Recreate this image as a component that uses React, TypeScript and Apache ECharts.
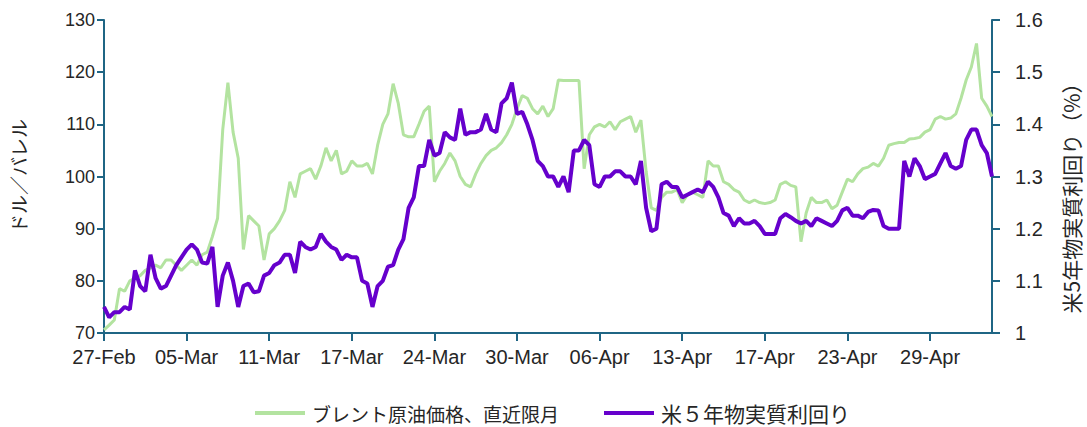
import React, { useEffect, useRef } from "react";
import * as echarts from "echarts";

const tickLabels = ["27-Feb", "05-Mar", "11-Mar", "17-Mar", "24-Mar", "30-Mar", "06-Apr", "13-Apr", "17-Apr", "23-Apr", "29-Apr"];
const pointsPerTick = 16;

const brent = [
  70.6, 71.5, 72.5, 78.5, 78.0, 80.0, 80.5, 81.0, 82.0, 82.5,
  83.0, 82.5, 84.0, 84.0, 83.0, 82.0, 83.0, 84.0, 83.0, 85.0,
  85.5, 88.5, 92.0, 109.0, 118.0, 108.5, 103.5, 86.0, 92.5, 91.5,
  90.5, 84.0, 89.0, 90.0, 91.5, 93.5, 99.0, 96.0, 100.5, 101.0,
  101.5, 99.5, 102.0, 105.5, 103.0, 105.0, 100.5, 101.0, 103.0, 102.0,
  102.0, 102.5, 100.5, 106.0, 110.0, 112.0, 117.8, 114.0, 108.0, 107.6,
  107.6, 110.0, 112.5, 113.5, 99.0, 101.0, 102.5, 104.5, 103.0, 100.0,
  98.5, 98.0, 100.5, 102.5, 104.0, 105.0, 105.5, 106.5, 108.0, 110.0,
  113.0, 115.5, 115.0, 113.0, 112.0, 113.5, 111.5, 113.0, 118.5, 118.4,
  118.4, 118.4, 118.4, 101.5, 108.0, 109.5, 110.0, 109.5, 110.5, 109.0,
  110.5, 111.0, 111.5, 108.5, 110.8, 101.0, 94.0, 93.5, 96.0, 97.0,
  97.0, 97.5, 95.0, 96.5, 97.0, 96.5, 96.0, 103.0, 102.0, 102.0,
  99.0, 98.5, 97.5, 97.0, 95.5, 95.0, 95.5, 95.0, 94.8, 95.0,
  95.5, 98.5, 99.0, 98.3, 98.0, 87.5, 93.0, 96.0, 95.0, 95.0,
  95.5, 93.8, 94.5, 97.0, 99.5, 99.0, 100.5, 101.5, 101.8, 102.5,
  102.0, 103.5, 106.0, 106.3, 106.5, 106.5, 107.2, 107.3, 107.5, 108.5,
  109.0, 111.0, 111.5, 111.0, 111.2, 112.0, 115.0, 118.5, 121.0, 125.5,
  115.0, 113.5, 111.5
];

const realYield = [
  1.05, 1.03, 1.04, 1.04, 1.05, 1.045, 1.12, 1.09, 1.08, 1.15,
  1.105, 1.085, 1.09, 1.11, 1.13, 1.145, 1.16, 1.17, 1.16, 1.135,
  1.133, 1.165, 1.05, 1.11, 1.135, 1.1, 1.05, 1.09, 1.095, 1.078,
  1.08, 1.11, 1.115, 1.13, 1.135, 1.15, 1.15, 1.115, 1.175, 1.165,
  1.16, 1.165, 1.19, 1.175, 1.165, 1.16, 1.14, 1.15, 1.145, 1.145,
  1.1, 1.095, 1.05, 1.09, 1.1, 1.127, 1.13, 1.16, 1.18, 1.24,
  1.26, 1.32, 1.32, 1.37, 1.34, 1.345, 1.385, 1.375, 1.37, 1.43,
  1.38, 1.385, 1.385, 1.39, 1.42, 1.39, 1.385, 1.44, 1.45, 1.48,
  1.42, 1.424, 1.4, 1.37, 1.33, 1.32, 1.3, 1.3, 1.28, 1.3,
  1.27, 1.35, 1.35, 1.37, 1.36, 1.285, 1.28, 1.3, 1.3, 1.31,
  1.31, 1.3, 1.3, 1.285, 1.33, 1.24, 1.195, 1.2, 1.285, 1.29,
  1.28, 1.28, 1.26, 1.265, 1.27, 1.275, 1.27, 1.29, 1.28, 1.26,
  1.23, 1.225, 1.205, 1.22, 1.21, 1.21, 1.215, 1.205, 1.19, 1.19,
  1.19, 1.22, 1.228, 1.222, 1.215, 1.21, 1.215, 1.205, 1.22, 1.215,
  1.21, 1.205, 1.215, 1.235, 1.24, 1.225, 1.225, 1.22, 1.232, 1.236,
  1.235, 1.205, 1.2, 1.2, 1.2, 1.33, 1.3, 1.335, 1.32, 1.295,
  1.3, 1.305, 1.325, 1.345, 1.32, 1.315, 1.32, 1.37, 1.39, 1.39,
  1.36, 1.345, 1.3
];

const brentName = "ブレント原油価格、直近限月";
const yieldName = "米５年物実質利回り";
const leftTitle = "ドル／バレル";
const rightTitle = "米5年物実質利回り（%）";

const categories = brent.map((_, i) => String(i));

const AXIS = "#1f6584";
const TEXT = "#262626";
const GREEN = "#b3e3a0";
const PURPLE = "#6600cc";
const NUM_FONT = "'Liberation Sans', Arial, sans-serif";
const JP_FONT = "'Noto Sans CJK JP', sans-serif";

export default function App() {
  const ref = useRef<HTMLDivElement>(null);
  useEffect(() => {
    if (!ref.current) return;
    const chart = echarts.init(ref.current, undefined, { renderer: "svg" });
    const legendY = 413;
    chart.setOption({
      animation: false,
      backgroundColor: "#ffffff",
      grid: { left: 104, right: 95, top: 20, bottom: 94, containLabel: false },
      xAxis: {
        type: "category",
        data: categories,
        boundaryGap: false,
        axisLine: { lineStyle: { color: AXIS, width: 2 } },
        axisTick: { interval: pointsPerTick - 1, length: 8, lineStyle: { color: AXIS, width: 2 } },
        axisLabel: {
          interval: pointsPerTick - 1,
          margin: 14,
          fontFamily: NUM_FONT,
          fontSize: 20,
          color: TEXT,
          formatter: (_v: string, idx: number) =>
            idx % pointsPerTick === 0 ? tickLabels[idx / pointsPerTick] ?? "" : "",
        },
        splitLine: { show: false },
      },
      yAxis: [
        {
          type: "value",
          min: 70,
          max: 130,
          interval: 10,
          axisLine: { show: true, lineStyle: { color: AXIS, width: 2 } },
          axisTick: { show: true, length: 7, lineStyle: { color: AXIS, width: 2 } },
          axisLabel: { margin: 9, fontFamily: NUM_FONT, fontSize: 18, color: TEXT },
          splitLine: { show: false },
        },
        {
          type: "value",
          min: 1,
          max: 1.6,
          interval: 0.1,
          position: "right",
          axisLine: { show: true, lineStyle: { color: AXIS, width: 2 } },
          axisTick: { show: true, length: 8, lineStyle: { color: AXIS, width: 2 } },
          axisLabel: { margin: 23, fontFamily: NUM_FONT, fontSize: 20, color: TEXT },
          splitLine: { show: false },
        },
      ],
      graphic: [
        {
          type: "text",
          x: 18,
          y: 176,
          rotation: Math.PI / 2,
          style: {
            text: leftTitle,
            fontFamily: JP_FONT,
            fontSize: 19,
            fill: TEXT,
            align: "center",
            verticalAlign: "middle",
          },
        },
        {
          type: "text",
          x: 1071,
          y: 193,
          rotation: Math.PI / 2,
          style: {
            text: rightTitle,
            fontFamily: JP_FONT,
            fontSize: 21,
            fill: TEXT,
            align: "center",
            verticalAlign: "middle",
          },
        },
        {
          type: "rect",
          shape: { x: 255, y: legendY - 2, width: 50, height: 4 },
          style: { fill: GREEN },
        },
        {
          type: "text",
          x: 312,
          y: legendY,
          style: {
            text: brentName,
            fontFamily: JP_FONT,
            fontSize: 19,
            fill: TEXT,
            align: "left",
            verticalAlign: "middle",
          },
        },
        {
          type: "rect",
          shape: { x: 604, y: legendY - 2, width: 50, height: 4 },
          style: { fill: PURPLE },
        },
        {
          type: "text",
          x: 661,
          y: legendY,
          style: {
            text: yieldName,
            fontFamily: JP_FONT,
            fontSize: 21,
            fill: TEXT,
            align: "left",
            verticalAlign: "middle",
          },
        },
      ],
      series: [
        {
          name: brentName,
          type: "line",
          data: brent,
          yAxisIndex: 0,
          symbol: "none",
          lineStyle: { color: GREEN, width: 3 },
          itemStyle: { color: GREEN },
          z: 2,
        },
        {
          name: yieldName,
          type: "line",
          data: realYield,
          yAxisIndex: 1,
          symbol: "none",
          lineStyle: { color: PURPLE, width: 4 },
          itemStyle: { color: PURPLE },
          z: 3,
        },
      ],
    });
    return () => chart.dispose();
  }, []);
  return (
    <div
      ref={ref}
      style={{ position: "fixed", left: 0, top: 0, width: 1087, height: 427, background: "#fff" }}
    />
  );
}
